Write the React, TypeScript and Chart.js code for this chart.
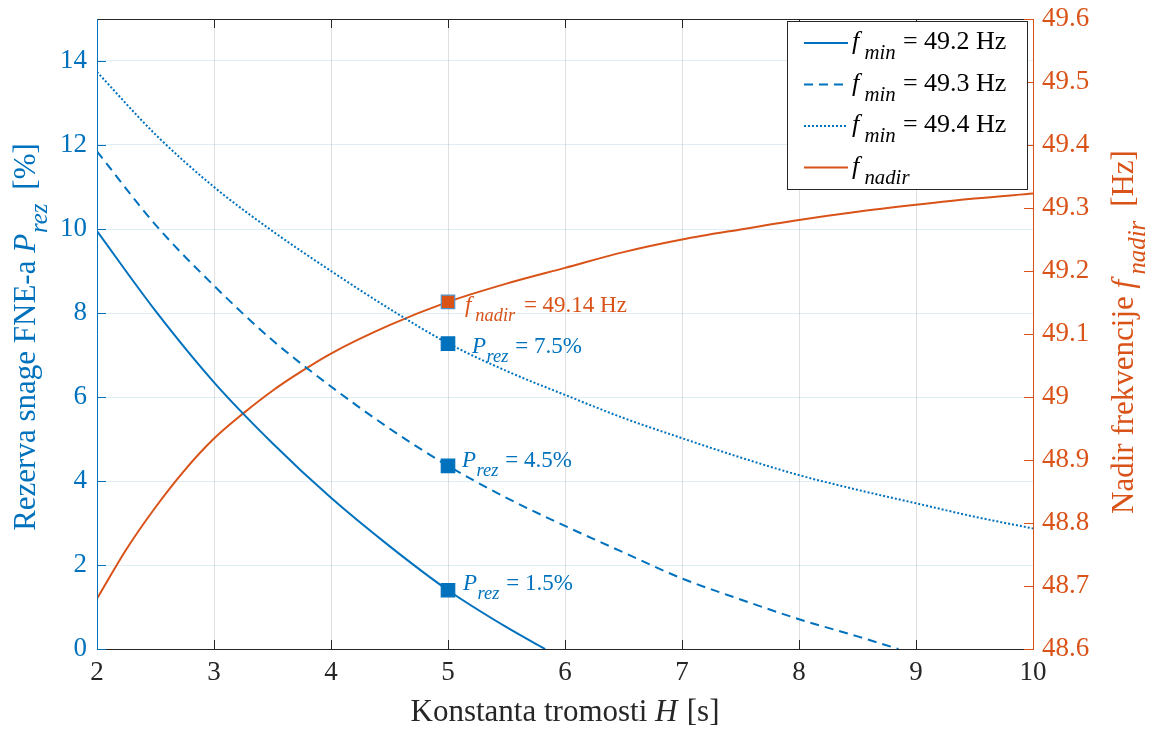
import React, { useEffect, useRef } from "react";
import { Chart, registerables } from "chart.js";
Chart.register(...registerables);

// ---- data ----
const H_492 = [2, 2.5, 3, 3.5, 4, 4.5, 5, 5.5, 5.83];
const P_492 = [9.95, 8.05, 6.35, 4.9, 3.6, 2.45, 1.4, 0.52, 0];
const H_493 = [2, 2.5, 3, 3.5, 4, 4.5, 5, 5.5, 6, 6.5, 7, 7.5, 8, 8.5, 8.85];
const P_493 = [11.85, 10.1, 8.65, 7.35, 6.25, 5.25, 4.36, 3.6, 2.93, 2.3, 1.68, 1.18, 0.71, 0.3, 0];
const H_494 = [2, 2.5, 3, 3.5, 4, 4.5, 5, 5.5, 6, 6.5, 7, 7.5, 8, 8.5, 9, 9.5, 10];
const P_494 = [13.74, 12.25, 11.0, 9.95, 9.0, 8.1, 7.28, 6.62, 6.05, 5.5, 5.02, 4.56, 4.14, 3.79, 3.47, 3.15, 2.87];
const H_NADIR = [2, 2.25, 2.5, 2.75, 3, 3.25, 3.5, 3.75, 4, 4.5, 5, 5.5, 6, 6.5, 7, 7.5, 8, 8.5, 9, 9.5, 10];
const F_NADIR = [48.68, 48.758, 48.825, 48.884, 48.934, 48.974, 49.01, 49.041, 49.069, 49.114, 49.151, 49.18, 49.205, 49.23, 49.25, 49.266, 49.281, 49.294, 49.305, 49.315, 49.323];

const MARK_H = 5;
const MARK_P = [1.4, 4.36, 7.27];
const MARK_P_LABELS = ["1.5%", "4.5%", "7.5%"];
const MARK_F = 49.151;
const MARK_F_LABEL = "49.14 Hz";

const F_MIN_LABELS = ["49.2 Hz", "49.3 Hz", "49.4 Hz"];

const X_TICKS = [2, 3, 4, 5, 6, 7, 8, 9, 10];
const Y_TICKS = [0, 2, 4, 6, 8, 10, 12, 14];
const F_TICKS = [48.6, 48.7, 48.8, 48.9, 49.0, 49.1, 49.2, 49.3, 49.4, 49.5, 49.6];

// ---- styles ----
const BLUE = "#0072BD";
const ORANGE = "#D95319";
const AXIS = "#262626";
const FONT = "'Liberation Serif', 'Times New Roman', serif";
const DASH = [9, 6];
const DOT = [2, 2];
const SUB_SCALE = 0.8;
const SUB_DROP = 0.4;

type Seg = { t: string; it?: boolean; sub?: boolean; gap?: number };

function segFont(size: number, s: Seg) {
  const fs = s.sub ? size * SUB_SCALE : size;
  return `${s.it ? "italic " : ""}${fs}px ${FONT}`;
}
function measureRich(ctx: CanvasRenderingContext2D, segs: Seg[], size: number) {
  let w = 0;
  for (const s of segs) {
    ctx.font = segFont(size, s);
    w += ctx.measureText(s.t).width + (s.gap || 0) * size;
  }
  return w;
}
function drawRich(ctx: CanvasRenderingContext2D, segs: Seg[], x: number, y: number, size: number, color: string) {
  ctx.fillStyle = color;
  ctx.textAlign = "left";
  ctx.textBaseline = "alphabetic";
  let cx = x;
  for (const s of segs) {
    ctx.font = segFont(size, s);
    ctx.fillText(s.t, cx, y + (s.sub ? size * SUB_DROP : 0));
    cx += ctx.measureText(s.t).width + (s.gap || 0) * size;
  }
}

const zip = (xs: number[], ys: number[]) => xs.map((x, i) => ({ x, y: ys[i] }));

export default function App() {
  const ref = useRef<HTMLCanvasElement>(null);
  useEffect(() => {
    const canvas = ref.current!;
    const lineDs = (label: string, xs: number[], ys: number[], color: string, dash: number[], axis: string) => ({
      type: "line",
      label,
      data: zip(xs, ys),
      borderColor: color,
      backgroundColor: color,
      borderWidth: 2,
      borderDash: dash,
      pointRadius: 0,
      cubicInterpolationMode: "monotone",
      yAxisID: axis,
      fill: false,
      order: 2,
    });
    const markerDs = (y: number, axis: string, fillC: string, borderC: string) => ({
      type: "line",
      data: [{ x: MARK_H, y }],
      showLine: false,
      pointStyle: "rect",
      pointRadius: 9.5,
      pointBackgroundColor: fillC,
      pointBorderColor: borderC,
      pointBorderWidth: 1.2,
      yAxisID: axis,
      order: 0,
    });

    const overlay = {
      id: "overlay",
      afterDatasetsDraw(chart: any) {
        const ctx: CanvasRenderingContext2D = chart.ctx;
        const { left, right, top, bottom } = chart.chartArea;
        const sx = chart.scales.x, sy = chart.scales.y, sf = chart.scales.y1;
        ctx.save();
        ctx.lineWidth = 1;
        const TL = 9;
        // axis lines & ticks
        ctx.strokeStyle = AXIS;
        ctx.beginPath();
        ctx.moveTo(left, bottom + 0.5); ctx.lineTo(right, bottom + 0.5);
        ctx.moveTo(left, top + 0.5); ctx.lineTo(right, top + 0.5);
        for (const v of X_TICKS) {
          const px = Math.round(sx.getPixelForValue(v)) + 0.5;
          ctx.moveTo(px, bottom); ctx.lineTo(px, bottom - TL);
          ctx.moveTo(px, top); ctx.lineTo(px, top + TL);
        }
        ctx.stroke();
        ctx.strokeStyle = BLUE;
        ctx.beginPath();
        ctx.moveTo(left + 0.5, top); ctx.lineTo(left + 0.5, bottom + 1);
        for (const v of Y_TICKS) {
          const py = Math.round(sy.getPixelForValue(v)) + 0.5;
          ctx.moveTo(left, py); ctx.lineTo(left + TL, py);
        }
        ctx.stroke();
        ctx.strokeStyle = ORANGE;
        ctx.beginPath();
        ctx.moveTo(right + 0.5, top); ctx.lineTo(right + 0.5, bottom + 1);
        for (const v of F_TICKS) {
          const py = Math.round(sf.getPixelForValue(v)) + 0.5;
          ctx.moveTo(right, py); ctx.lineTo(right - TL, py);
        }
        ctx.stroke();

        // annotations
        const mx = sx.getPixelForValue(MARK_H);
        const AS = 23;
        const fy = sf.getPixelForValue(MARK_F);
        drawRich(ctx, [{ t: "f", it: true, gap: 0.17 }, { t: "nadir", it: true, sub: true, gap: 0.38 }, { t: "= " + MARK_F_LABEL }], mx + 17, fy + 10, AS, ORANGE);
        const offs = [[15, 0], [14, 1], [24, 9]];
        MARK_P.forEach((p, i) => {
          const py = sy.getPixelForValue(p);
          drawRich(ctx, [{ t: "P", it: true, gap: 0.02 }, { t: "rez", it: true, sub: true, gap: 0.3 }, { t: "= " + MARK_P_LABELS[i] }], mx + offs[i][0], py + offs[i][1], AS, BLUE);
        });

        // legend
        const LS = 26;
        const bx = 787, by = 21, bw = 240, bh = 168;
        ctx.fillStyle = "#fff";
        ctx.fillRect(bx, by, bw, bh);
        ctx.strokeStyle = AXIS;
        ctx.lineWidth = 1;
        ctx.strokeRect(bx + 0.5, by + 0.5, bw, bh);
        const fminSegs = (lab: string): Seg[] => [{ t: "f", it: true, gap: 0.2 }, { t: "min", it: true, sub: true, gap: 0.28 }, { t: "= " + lab }];
        const rows = [
          { c: BLUE, d: [] as number[], segs: fminSegs(F_MIN_LABELS[0]) },
          { c: BLUE, d: DASH, segs: fminSegs(F_MIN_LABELS[1]) },
          { c: BLUE, d: DOT, segs: fminSegs(F_MIN_LABELS[2]) },
          { c: ORANGE, d: [] as number[], segs: [{ t: "f", it: true, gap: 0.2 }, { t: "nadir", it: true, sub: true }] as Seg[] },
        ];
        rows.forEach((r, i) => {
          const ly = by + 22 + i * 41.5;
          ctx.strokeStyle = r.c;
          ctx.lineWidth = 2;
          ctx.setLineDash(r.d);
          ctx.beginPath();
          ctx.moveTo(804, ly); ctx.lineTo(848, ly);
          ctx.stroke();
          ctx.setLineDash([]);
          drawRich(ctx, r.segs, 852, ly + 6, LS, "#000");
        });

        // axis titles
        const TS = 31;
        const xt: Seg[] = [{ t: "Konstanta tromosti " }, { t: "H", it: true, gap: 0.05 }, { t: " [s]" }];
        const wx = measureRich(ctx, xt, TS);
        drawRich(ctx, xt, (left + right) / 2 - wx / 2, 721, TS, AXIS);

        const lt: Seg[] = [{ t: "Rezerva snage FNE-a " }, { t: "P", it: true, gap: 0.03 }, { t: "rez", it: true, sub: true, gap: 0.2 }, { t: " [%]" }];
        const wl = measureRich(ctx, lt, TS);
        ctx.save();
        ctx.translate(35, 337);
        ctx.rotate(-Math.PI / 2);
        drawRich(ctx, lt, -wl / 2, 0, TS, BLUE);
        ctx.restore();

        const rt: Seg[] = [{ t: "Nadir frekvencije " }, { t: "f", it: true, gap: 0.17 }, { t: "nadir", it: true, sub: true, gap: 0.2 }, { t: " [Hz]" }];
        const wr = measureRich(ctx, rt, TS);
        ctx.save();
        ctx.translate(1133, 332);
        ctx.rotate(-Math.PI / 2);
        drawRich(ctx, rt, -wr / 2, 0, TS, ORANGE);
        ctx.restore();

        ctx.restore();
      },
    };

    const tickFont = { family: FONT, size: 27 };
    const noPad = (s: any) => { s.paddingTop = 0; s.paddingBottom = 0; };
    const chart = new Chart(canvas, {
      type: "line",
      data: {
        datasets: [
          markerDs(MARK_F, "y1", ORANGE, "#4f95cc"),
          markerDs(MARK_P[0], "y", BLUE, BLUE),
          markerDs(MARK_P[1], "y", BLUE, BLUE),
          markerDs(MARK_P[2], "y", BLUE, BLUE),
          lineDs("fmin 49.2", H_492, P_492, BLUE, [], "y"),
          lineDs("fmin 49.3", H_493, P_493, BLUE, DASH, "y"),
          lineDs("fmin 49.4", H_494, P_494, BLUE, DOT, "y"),
          lineDs("fnadir", H_NADIR, F_NADIR, ORANGE, [], "y1"),
        ] as any,
      },
      options: {
        responsive: false,
        animation: false,
        layout: { padding: { top: 19, left: 0, right: 0, bottom: 0 } },
        plugins: { legend: { display: false }, tooltip: { enabled: false } },
        scales: {
          x: {
            type: "linear",
            min: 2,
            max: 10,
            afterBuildTicks: (s: any) => { s.ticks = X_TICKS.map((v) => ({ value: v })); },
            afterFit: (s: any) => { s.height = 80; s.paddingLeft = 0; s.paddingRight = 0; },
            grid: { color: "rgba(38,38,38,0.15)", drawTicks: false, lineWidth: 1 },
            border: { display: false },
            ticks: { color: AXIS, font: tickFont, padding: 8, maxRotation: 0, autoSkip: false, callback: (v: any) => String(v) },
          },
          y: {
            type: "linear",
            position: "left",
            min: 0,
            max: 15,
            afterBuildTicks: (s: any) => { s.ticks = Y_TICKS.map((v) => ({ value: v })); },
            afterFit: (s: any) => { s.width = 97; noPad(s); },
            grid: { color: "rgba(0,114,189,0.13)", drawTicks: false, lineWidth: 1 },
            border: { display: false },
            ticks: { color: BLUE, font: tickFont, padding: 10, callback: (v: any) => String(v) },
          },
          y1: {
            type: "linear",
            position: "right",
            min: 48.6,
            max: 49.6,
            afterBuildTicks: (s: any) => { s.ticks = F_TICKS.map((v) => ({ value: v })); },
            afterFit: (s: any) => { s.width = 119; noPad(s); },
            grid: { display: false, drawTicks: false },
            border: { display: false },
            ticks: { color: ORANGE, font: tickFont, padding: 9, callback: (v: any) => String(Math.round(v * 10) / 10) },
          },
        },
      } as any,
      plugins: [overlay],
    });
    return () => chart.destroy();
  }, []);
  return (
    <canvas
      ref={ref}
      width={1152}
      height={729}
      style={{ position: "fixed", left: 0, top: 0, width: 1152, height: 729, background: "#fff" }}
    />
  );
}
